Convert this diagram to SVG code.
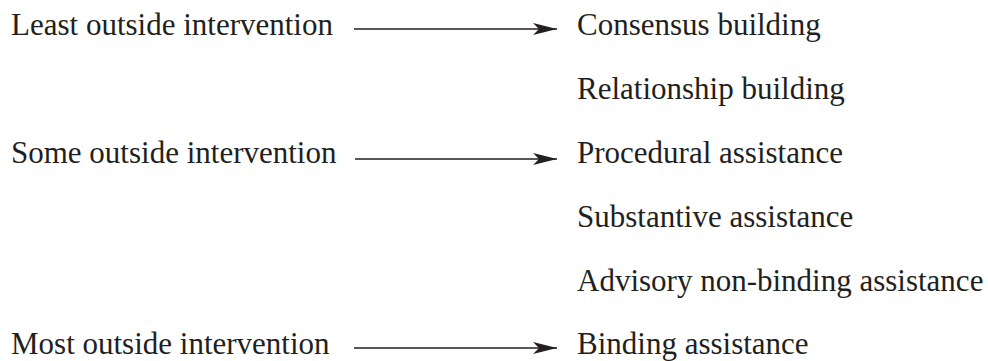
<svg xmlns="http://www.w3.org/2000/svg" width="988" height="361" viewBox="0 0 988 361">
  <style>
    text { font-family: "Liberation Serif", "Times New Roman", serif; font-size: 31px; fill: #231f20; }
    .conn line { stroke: #231f20; stroke-width: 1.4; }
  </style>
  <defs>
    <marker id="arrow" viewBox="0 0 24 12" refX="24" refY="6" markerWidth="24" markerHeight="12" markerUnits="userSpaceOnUse" orient="auto">
      <path d="M0,0 L24,6 L0,12 L6,6 Z" fill="#231f20"/>
    </marker>
  </defs>
  <rect width="988" height="361" fill="#ffffff"/>

  <!-- levels of intervention -->
  <g id="least"><text x="11" y="35">Least outside intervention</text></g>
  <g id="some"><text x="11" y="163">Some outside intervention</text></g>
  <g id="most"><text x="11" y="354">Most outside intervention</text></g>

  <!-- kinds of assistance -->
  <g id="consensus"><text x="577" y="35">Consensus building</text></g>
  <g id="relationship"><text x="577" y="99">Relationship building</text></g>
  <g id="procedural"><text x="577" y="163">Procedural assistance</text></g>
  <g id="substantive"><text x="577" y="227">Substantive assistance</text></g>
  <g id="advisory"><text x="577" y="291">Advisory non-binding assistance</text></g>
  <g id="binding"><text x="577" y="354">Binding assistance</text></g>

  <g class="conn" id="connectors">
    <line x1="354" y1="29" x2="557" y2="29" marker-end="url(#arrow)"/>
    <line x1="355" y1="159" x2="557" y2="159" marker-end="url(#arrow)"/>
    <line x1="354" y1="348" x2="557" y2="348" marker-end="url(#arrow)"/>
  </g>
</svg>
